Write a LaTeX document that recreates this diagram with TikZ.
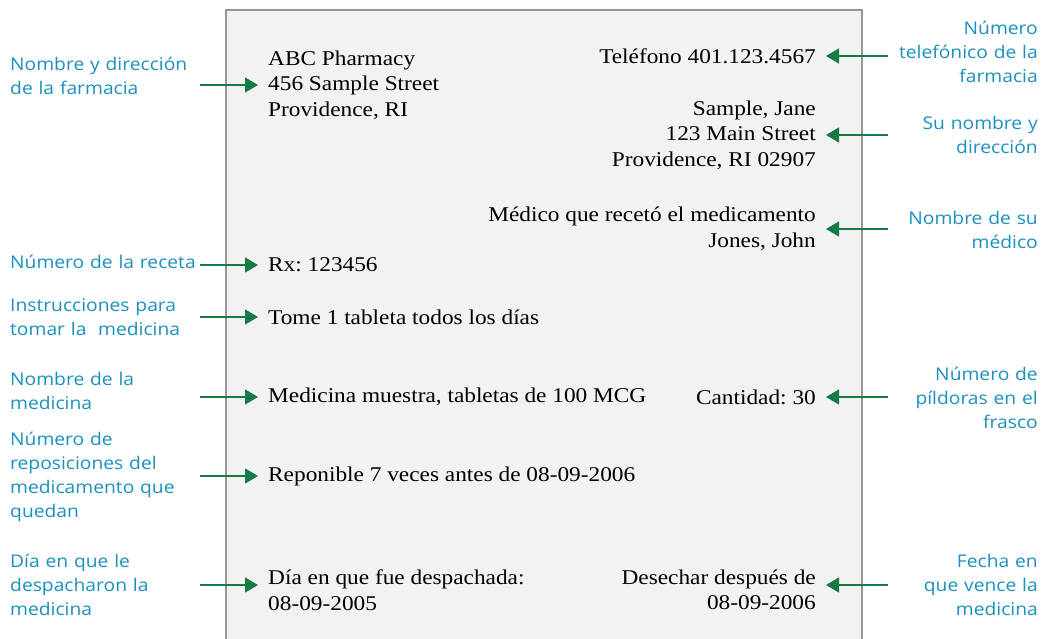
\documentclass[tikz,border=0pt]{standalone}
\usepackage{fontspec}
\setmainfont[FakeStretch=1.11]{Liberation Serif}
\newfontfamily\labelfont[FakeStretch=1.1]{Open Sans}
\usetikzlibrary{arrows.meta}
\frenchspacing
\definecolor{lblblue}{RGB}{27,143,190}
\definecolor{arrgreen}{RGB}{22,122,70}
\definecolor{boxgray}{RGB}{242,242,242}
\definecolor{edgegray}{RGB}{150,150,150}
\tikzstyle{line} = [draw=arrgreen, line width=1.4pt, -{Triangle[length=13pt,width=15pt]}]
\tikzstyle{lbl} = [font=\labelfont\fontsize{17.5}{24}\selectfont, text=lblblue, inner xsep=10pt, inner ysep=0pt]
\tikzstyle{lbleft} = [lbl, anchor=west, align=left, text width=180pt]
\tikzstyle{lbright} = [lbl, anchor=east, align=right, text width=140pt]
\tikzstyle{txt} = [font=\fontsize{21}{25.5}\selectfont, inner xsep=10pt, inner ysep=0pt]
\tikzstyle{txtleft} = [txt, anchor=west, align=left]
\tikzstyle{txtright} = [txt, anchor=east, align=right]

\begin{document}
\begin{tikzpicture}[x=1pt, y=-1pt]
    \useasboundingbox (0,0) rectangle (1042,639);
    \path [draw=edgegray, line width=1.5pt, fill=boxgray] (226,660) -- (226,10) -- (862,10) -- (862,660);
    % label text
    \node [txtleft] (pharm) at (258,85) {ABC Pharmacy\\456 Sample Street\\Providence, RI};
    \node [txtright] (phone) at (826,56) {Teléfono 401.123.4567};
    \node [txtright] (patient) at (826,135) {Sample, Jane\\123 Main Street\\Providence, RI 02907};
    \node [txtright] (doctor) at (826,229) {Médico que recetó el medicamento\\Jones, John};
    \node [txtleft] (rx) at (258,265) {Rx: 123456};
    \node [txtleft] (instr) at (258,317) {Tome 1 tableta todos los días};
    \node [txtleft] (drug) at (258,397) {Medicina muestra, tabletas de 100 MCG};
    \node [txtright] (qty) at (826,397) {Cantidad: 30};
    \node [txtleft] (refill) at (258,476) {Reponible 7 veces antes de 08-09-2006};
    \node [txtleft] (filled) at (258,590) {Día en que fue despachada:\\08-09-2005};
    \node [txtright] (discard) at (826,590) {Desechar después de\\08-09-2006};
    % callouts
    \node [lbleft] (lpharm) at (0,76) {Nombre y dirección\\de la farmacia};
    \node [lbright] (lphone) at (1048,52) {Número\\telefónico de la\\farmacia};
    \node [lbright] (lpatient) at (1048,135) {Su nombre y\\dirección};
    \node [lbright] (ldoctor) at (1048,230) {Nombre de su\\médico};
    \node [lbleft] (lrx) at (0,262) {\mbox{Número de la receta}};
    \node [lbleft] (linstr) at (0,317) {Instrucciones para\\tomar la~ medicina};
    \node [lbleft] (ldrug) at (0,391) {Nombre de la\\medicina};
    \node [lbright] (lqty) at (1048,398) {Número de\\píldoras en el\\frasco};
    \node [lbleft] (lrefill) at (0,477) {Número de\\reposiciones del\\medicamento que\\quedan};
    \node [lbleft] (lfilled) at (0,585) {Día en que le\\despacharon la\\medicina};
    \node [lbright] (ldiscard) at (1048,585) {Fecha en\\que vence la\\medicina};
    % arrows
    \path [line] (lpharm.east |- pharm.west) -- (pharm.west);
    \path [line] (lphone.west |- phone.east) -- (phone.east);
    \path [line] (lpatient.west |- patient.east) -- (patient.east);
    \path [line] (ldoctor.west |- doctor.east) -- (doctor.east);
    \path [line] (lrx.east |- rx.west) -- (rx.west);
    \path [line] (linstr.east |- instr.west) -- (instr.west);
    \path [line] (ldrug.east |- drug.west) -- (drug.west);
    \path [line] (lqty.west |- qty.east) -- (qty.east);
    \path [line] (lrefill.east |- refill.west) -- (refill.west);
    \path [line] (lfilled.east) -- (lfilled.east -| filled.west);
    \path [line] (ldiscard.west) -- (ldiscard.west -| discard.east);
\end{tikzpicture}
\end{document}
